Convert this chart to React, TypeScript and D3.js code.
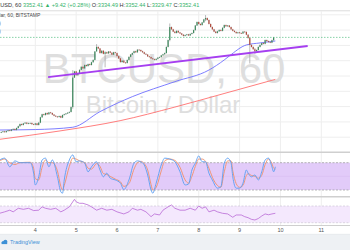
import React from 'react';
import * as d3 from 'd3';

const W = 350;
const H = 250;

// ---- data ----
const firstHour = -20; // hours relative to day "4" 00:00
const firstOpen = 2730;
const closes = [
  2734, 2738, 2733, 2740, 2745, 2742, 2750, 2754, 2748, 2760,
  2772, 2786, 2780, 2790, 2795, 2788, 2792, 2793, 2785, 2782,
  2790, 2780, 2795, 2830, 2850, 2845, 2858, 2850, 2862, 2858,
  2848, 2840, 2835, 2832, 2838, 2828, 2845, 2850, 2855, 2860,
  2865, 2897, 3090, 3130, 3105, 3115, 3140, 3160, 3150, 3172,
  3165, 3178, 3172, 3190, 3205, 3260, 3290, 3280, 3250, 3265,
  3245, 3255, 3248, 3260, 3252, 3240, 3255, 3250, 3230, 3215,
  3191, 3200, 3188, 3185, 3205, 3225, 3240, 3250, 3262, 3255,
  3272, 3270, 3262, 3255, 3245, 3240, 3228, 3224, 3215, 3210,
  3205, 3212, 3220, 3224, 3235, 3242, 3250, 3290, 3335, 3420,
  3405, 3390, 3381, 3395, 3385, 3378, 3370, 3362, 3368, 3372,
  3365, 3375, 3381, 3400, 3430, 3453, 3440, 3433, 3450, 3470,
  3479, 3466, 3440, 3420, 3405, 3390, 3381, 3392, 3401, 3395,
  3415, 3433, 3425, 3430, 3420, 3405, 3395, 3388, 3380, 3385,
  3381, 3378, 3390, 3388, 3370, 3348, 3303, 3290, 3275, 3262,
  3270, 3290, 3303, 3315, 3310, 3335, 3328, 3322, 3318, 3334,
  3352,
];
const wickHours = [22, 36, 41, 79, 100, 126, 129];
const wickHighs = [3135, 3305, 3258, 3440, 3495, 3350, 3280];
const wickLows = [2890, 3275, 3160, 3330, 3462, 3185, 3248];

const ma100Hours = [-21, 0, 22, 38, 57, 82, 102, 111, 114, 124, 132, 141];
const ma100 = [2747, 2750, 2765, 2867, 2965, 3063, 3139, 3205, 3231, 3303, 3316, 3329];
const ma200Hours = [-21, 14.5, 49.8, 82, 111.4, 141];
const ma200 = [2686, 2741, 2808, 2897, 2987, 3078];
const trendHours = [7.5, 160];
const trendPrices = [3093, 3296];
const lastPrice = 3352.41;

const stochHours = [
  -21, -18, -15, -12, -9, -3, -1, 0, 2, 4,
  6, 8, 10, 13, 15, 16, 17, 20, 22, 24,
  26, 29, 31, 33, 36, 38, 40, 42, 44, 47,
  50, 52, 55, 58, 60, 62, 64, 66, 68, 69,
  71, 74, 76, 79, 82, 85, 88, 90, 92, 94,
  96, 98, 100, 102, 104, 107, 109, 111, 113, 115,
  116, 118, 120, 122, 124, 125, 127, 129, 131, 133,
  135, 137, 139, 140, 141,
];
const stochK = [
  86, 90, 71, 84, 80, 80, 57, 31, 49, 86,
  90, 71, 86, 49, 16, 13, 42, 86, 97, 82,
  84, 79, 60, 71, 82, 64, 49, 57, 46, 42,
  35, 21, 42, 79, 84, 82, 75, 53, 20, 13,
  35, 75, 90, 88, 82, 60, 31, 33, 64, 79,
  95, 82, 82, 57, 42, 24, 27, 79, 90, 79,
  49, 24, 24, 35, 64, 57, 49, 53, 42, 60,
  86, 90, 71, 60, 71,
];
const stochD = [
  84, 88, 80, 76, 80, 81, 68, 45, 42, 70,
  86, 80, 80, 62, 28, 20, 30, 72, 90, 88,
  84, 80, 68, 66, 78, 72, 56, 54, 50, 44,
  38, 28, 34, 66, 80, 83, 78, 64, 32, 20,
  26, 62, 84, 88, 85, 70, 42, 35, 50, 72,
  88, 88, 83, 68, 48, 30, 26, 60, 84, 84,
  62, 34, 26, 30, 52, 56, 52, 50, 46, 52,
  76, 88, 78, 68, 66,
];

const rsiHours = [
  -21, -18, -15, -13, -10, -7, -4, -1, 2, 4,
  6, 9, 12, 15, 17, 20, 23, 24, 26, 28,
  31, 33, 36, 39, 42, 45, 48, 52, 55, 57,
  60, 62, 65, 68, 70, 73, 75, 78, 80, 82,
  85, 88, 91, 94, 96, 98, 100, 102, 105, 107,
  110, 113, 116, 118, 121, 123, 125, 127, 129, 131,
  133, 135, 137, 139, 141,
];
const rsiValues = [
  52.5, 56, 60, 56, 64.5, 62, 64.5, 59, 60, 68,
  64.5, 62, 64.5, 56, 60, 68, 86, 80, 76.5, 76.5,
  72.5, 68, 60, 64.5, 60, 62, 56, 51, 56, 64.5,
  60, 62, 56, 44.5, 51, 48.5, 60, 68, 72.5, 64.5,
  60, 60, 64.5, 60, 70, 64.5, 68, 56, 60, 56,
  52.5, 51, 43, 48.5, 48.5, 44.5, 42, 38, 36.5, 40,
  46, 51, 49, 51, 52.5,
];

const dayTicks = [0, 24, 48, 72, 96, 120, 144, 168];
const dayLabels = ['4', '5', '6', '7', '8', '9', '10', '11'];
const priceGrid = [2700, 2800, 2900, 3000, 3100, 3200, 3300, 3400, 3500];

// ---- layout ----
const MAIN_TOP = 11.5;
const MAIN_BOT = 151.5;
const STO_TOP = 153;
const STO_BOT = 196;
const RSI_TOP = 197.8;
const RSI_BOT = 225;

const FONT = "'Liberation Sans', Arial, sans-serif";
const GREEN = '#36b36b';

export default function App() {
  const x = d3.scaleLinear().domain([0, 168]).range([35.3, 321.3]);
  const yP = d3.scaleLinear().domain([2700, 3500]).range([137.2, 14.8]);
  const yS = d3.scaleLinear().domain([0, 100]).range([199.1, 153.6]);
  const yR = d3.scaleLinear().domain([30, 70]).range([222.7, 206]);

  const lineP = (hs: number[], vs: number[]) =>
    d3.line<number>().x((_, i) => x(hs[i])).y((v) => yP(v)).curve(d3.curveMonotoneX)(vs) || '';
  const lineS = (vs: number[]) =>
    d3.line<number>().x((_, i) => x(stochHours[i])).y((v) => yS(v)).curve(d3.curveMonotoneX)(vs) || '';
  const lineR =
    d3.line<number>().x((_, i) => x(rsiHours[i])).y((v) => yR(v))(rsiValues) || '';

  return (
    <svg
      width={W}
      height={H}
      viewBox={`0 0 ${W} ${H}`}
      style={{ position: 'absolute', left: 0, top: 0, display: 'block', background: '#fff' }}
      fontFamily={FONT}
    >
      <defs>
        <clipPath id="cMain"><rect x={0} y={MAIN_TOP} width={W} height={MAIN_BOT - MAIN_TOP} /></clipPath>
        <clipPath id="cSto"><rect x={0} y={STO_TOP} width={W} height={STO_BOT - STO_TOP} /></clipPath>
        <clipPath id="cRsi"><rect x={0} y={RSI_TOP} width={W} height={RSI_BOT - RSI_TOP} /></clipPath>
      </defs>
      <rect x={0} y={0} width={W} height={H} fill="#fff" />

      {/* vertical grid */}
      {dayTicks.map((d) => (
        <line key={'vg' + d} x1={x(d)} x2={x(d)} y1={MAIN_TOP} y2={RSI_BOT} stroke="#eeeeee" strokeWidth={1} />
      ))}
      {/* horizontal grid main */}
      {priceGrid.map((p) => (
        <line key={'hg' + p} x1={0} x2={W} y1={yP(p)} y2={yP(p)} stroke="#eeeeee" strokeWidth={1} />
      ))}

      {/* watermark */}
      <text x={164} y={83} textAnchor="middle" fontSize={42} fill="#dedede">BTCUSD, 60</text>
      <text x={163} y={113} textAnchor="middle" fontSize={24} fill="#dedede">Bitcoin / Dollar</text>

      {/* main pane */}
      <g clipPath="url(#cMain)">
        <path d={lineP(ma200Hours, ma200)} fill="none" stroke="#ff6f6f" strokeWidth={0.9} />
        <path d={lineP(ma100Hours, ma100)} fill="none" stroke="#6f6fff" strokeWidth={0.9} />
        {closes.map((c, i) => {
          const h = firstHour + i;
          const o = i === 0 ? firstOpen : closes[i - 1];
          const up = c >= o;
          const wi = wickHours.indexOf(h);
          const hi = wi >= 0 ? wickHighs[wi] : Math.max(o, c);
          const lo = wi >= 0 ? wickLows[wi] : Math.min(o, c);
          const cx = x(h);
          const yTop = yP(Math.max(o, c));
          const yBot = yP(Math.min(o, c));
          return (
            <g key={'c' + i}>
              <line x1={cx} x2={cx} y1={yP(hi) - 0.5} y2={yP(lo) + 0.5} stroke="#8a8a8c" strokeWidth={0.6} />
              <rect x={cx - 0.6} y={yTop} width={1.2} height={Math.max(0.7, yBot - yTop)} fill={up ? '#3e8a5e' : '#b24a3b'} />
            </g>
          );
        })}
        <line x1={x(trendHours[0])} y1={yP(trendPrices[0])} x2={x(trendHours[1])} y2={yP(trendPrices[1])} stroke="#a63ff0" strokeWidth={1.8} />
        <line x1={0} x2={W} y1={yP(lastPrice)} y2={yP(lastPrice)} stroke={GREEN} strokeWidth={0.6} strokeDasharray="1.5,1.5" />
      </g>

      {/* header */}
      <rect x={0} y={0} width={W} height={10.5} fill="#fff" />
      <line x1={0} x2={W} y1={10.8} y2={10.8} stroke="#dcdcdc" strokeWidth={1} />
      <text x={-11} y={6.6} fontSize={5.6} fill="#333">
        BTCUSD, 60
        <tspan fill={GREEN}> 3352.41 ▲ +9.42 (+0.28%)</tspan>
        <tspan fill="#333"> O:</tspan><tspan fill={GREEN}>3334.49</tspan>
        <tspan fill="#333"> H:</tspan><tspan fill={GREEN}>3352.44</tspan>
        <tspan fill="#333"> L:</tspan><tspan fill={GREEN}>3329.47</tspan>
        <tspan fill="#333"> C:</tspan><tspan fill={GREEN}>3352.41</tspan>
      </text>
      <text x={-38.5} y={17} fontSize={5} fill="#4a4a4a">Bitcoin / U.S. Dollar, 60, BITSTAMP</text>
      <text x={-1} y={25} fontSize={5} fill="#4a4a4a">)</text>
      <text x={-1} y={33} fontSize={5} fill="#4a4a4a">)</text>

      {/* separators */}
      <line x1={0} x2={W} y1={152.3} y2={152.3} stroke="#cfcfcf" strokeWidth={1.4} />
      <line x1={0} x2={W} y1={196.8} y2={196.8} stroke="#cfcfcf" strokeWidth={1.4} />

      {/* stochastic pane */}
      <rect x={0} y={yS(80)} width={W} height={yS(20) - yS(80)} fill="#e2cbf9" />
      <line x1={0} x2={W} y1={yS(50)} y2={yS(50)} stroke="#d6bdf0" strokeWidth={0.6} />
      <line x1={0} x2={W} y1={yS(80)} y2={yS(80)} stroke="#9a9a9a" strokeWidth={0.7} strokeDasharray="2,1.5" />
      <line x1={0} x2={W} y1={yS(20)} y2={yS(20)} stroke="#9a9a9a" strokeWidth={0.7} strokeDasharray="2,1.5" />
      <g clipPath="url(#cSto)">
        <path d={lineS(stochD)} fill="none" stroke="#f0906a" strokeWidth={0.9} />
        <path d={lineS(stochK)} fill="none" stroke="#5a9ef2" strokeWidth={0.9} />
      </g>

      {/* RSI pane */}
      <rect x={0} y={yR(70)} width={W} height={yR(30) - yR(70)} fill="#f4e8fd" />
      <line x1={0} x2={W} y1={yR(70)} y2={yR(70)} stroke="#c8c0d0" strokeWidth={0.6} strokeDasharray="2,1.5" />
      <line x1={0} x2={W} y1={yR(30)} y2={yR(30)} stroke="#c8c0d0" strokeWidth={0.6} strokeDasharray="2,1.5" />
      <g clipPath="url(#cRsi)">
        <path d={lineR} fill="none" stroke="#b96ad6" strokeWidth={0.8} />
      </g>

      {/* time axis */}
      <line x1={0} x2={W} y1={225.5} y2={225.5} stroke="#cfcfcf" strokeWidth={1.2} />
      {dayTicks.map((d, i) => (
        <text key={'t' + d} x={x(d)} y={231.8} fontSize={5.5} textAnchor="middle" fill="#555">{dayLabels[i]}</text>
      ))}

      {/* footer */}
      <rect x={0} y={234.3} width={W} height={H - 234.3} fill="#eef1f4" />
      <line x1={0} x2={W} y1={234.3} y2={234.3} stroke="#dde1e6" strokeWidth={0.6} />
      <g fill="#3c90d6">
        <circle cx={3.2} cy={242.5} r={1.6} />
        <circle cx={5.4} cy={241.8} r={2} />
        <rect x={1.6} y={242.5} width={5.6} height={1.6} />
      </g>
      <text x={10} y={244.3} fontSize={5.4} fill="#3c90d6">TradingView</text>
    </svg>
  );
}
